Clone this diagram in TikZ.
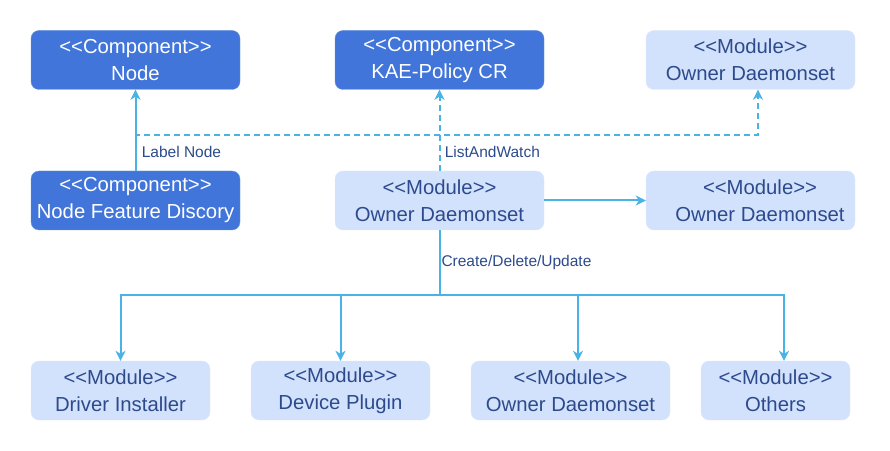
\documentclass[tikz,border=0pt]{standalone}
\usepackage{fontspec}
\setmainfont{Liberation Sans}[Ligatures=TeXOff]
\usepackage{tikz}
\usetikzlibrary{arrows.meta}

\definecolor{compfill}{HTML}{4175D9}
\definecolor{compline}{HTML}{6A95E3}
\definecolor{modfill}{HTML}{D3E2FC}
\definecolor{modline}{HTML}{DDE8FD}
\definecolor{modtext}{HTML}{2C4A8C}
\definecolor{flow}{HTML}{4AB3E6}

\begin{document}
\begin{tikzpicture}[
x=1pt, y=1pt,
>={Stealth[length=10pt,width=10pt,inset=3pt]},
component/.style={rectangle, draw=compline, fill=compfill, text=white,
align=center, rounded corners=8pt, minimum width=209pt, minimum height=59pt,
inner xsep=2pt, font=\fontsize{20.3}{27}\selectfont},
module/.style={component, draw=modline, fill=modfill, text=modtext},
flowline/.style={draw=flow, line width=2pt},
watchline/.style={flowline, dash pattern=on 6pt off 4pt},
edgelabel/.style={text=modtext, font=\fontsize{15.5}{18}\selectfont},
node distance=140.5pt
]
\useasboundingbox (0,0) rectangle (890,450);

\node[component] (n1) at (135.5,249.5) {<<Component>>\\Node Feature Discory};
\node[component, above of=n1] (n2) {<<Component>>\\Node};
\node[module, right of=n1, node distance=304pt] (n3) {<<Module>>\\Owner Daemonset};
\node[component, above of=n3] (n4) {<<Component>>\\KAE-Policy CR};
\node[module, right of=n3, node distance=311pt] (n5) {\hspace*{19pt}<<Module>>\\\hspace*{19pt}Owner Daemonset};
\node[module, above of=n5] (n6) {<<Module>>\\Owner Daemonset};

% managed modules along the bottom
\node[module, minimum width=179pt] (m1) at (120.5,59.5) {<<Module>>\\Driver Installer};
\node[module, minimum width=179pt, right of=m1, node distance=220pt] (m2) {<<Module>>\\Device Plugin};
\node[module, minimum width=199pt, right of=m2, node distance=230pt] (m3) {<<Module>>\\Owner Daemonset};
\node[module, minimum width=149pt, right of=m3, node distance=205pt] (m4) {<<Module>>\\Others};

\coordinate (w) at ([yshift=36pt]n3.north);
\coordinate (split) at ([yshift=-65pt]n3.south);

\draw[flowline, ->] (n1) -- node[edgelabel, pos=0.235, right, xshift=2pt] {Label Node} (n2);
\draw[watchline, ->] (n3) -- node[edgelabel, pos=0.235, right, xshift=1pt] {ListAndWatch} (n4);
\draw[watchline, ->] (n3.north) -- (w) -| ([xshift=7.5pt]n6.south);
\draw[watchline] (w) -- (w -| n2.south);
\draw[flowline, ->] (n3) -- (n5);

\draw[flowline, ->] (n3) -- node[edgelabel, pos=0.49, right, inner xsep=1pt] {Create/Delete/Update} (split) -| (m1);
\draw[flowline, ->] (split) -| (m2);
\draw[flowline, ->] (split) -| ([xshift=7.5pt]m3.north);
\draw[flowline, ->] (split) -| ([xshift=8.5pt]m4.north);
\end{tikzpicture}
\end{document}
